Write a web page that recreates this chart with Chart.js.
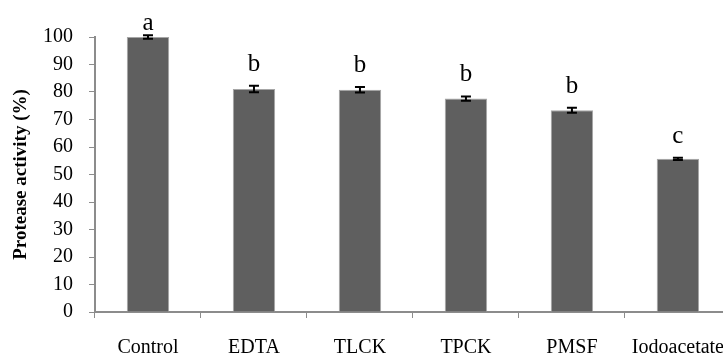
<!DOCTYPE html>
<html>
<head>
<meta charset="utf-8">
<script src="https://cdn.jsdelivr.net/npm/chart.js@4"></script>
<style>
    html, body { margin: 0; padding: 0; background: #fff; overflow: hidden; }
    #wrap { width: 742px; height: 356px; position: relative; }
</style>
</head>
<body>
<div id="wrap"><canvas id="myChart"></canvas></div>
<script>
// data
const categories = ['Control', 'EDTA', 'TLCK', 'TPCK', 'PMSF', 'Iodoacetate'];
const activity = [100, 81.1, 80.8, 77.6, 73.4, 55.7];
const errors = [0.6, 1.2, 1.0, 0.8, 0.9, 0.4];
const letters = ['a', 'b', 'b', 'b', 'b', 'c'];
const yTicks = [0, 10, 20, 30, 40, 50, 60, 70, 80, 90, 100];

const AXIS_COLOR = '#8c8c8c';
const FONT = "'Liberation Serif', 'Times New Roman', serif";

// draws the error bars and the letters over each bar
const errorBarPlugin = {
    id: 'errorBars',
    afterDatasetsDraw(chart) {
        const ctx = chart.ctx;
        const meta = chart.getDatasetMeta(0);
        const y = chart.scales.y;
        ctx.save();
        for (let i = 0; i < meta.data.length; i++) {
            const bar = meta.data[i];
            const top = y.getPixelForValue(activity[i] + errors[i]);
            const bottom = y.getPixelForValue(activity[i] - errors[i]);
            ctx.strokeStyle = '#000';
            ctx.lineWidth = 2;
            ctx.beginPath();
            ctx.moveTo(bar.x, top);
            ctx.lineTo(bar.x, bottom);
            ctx.moveTo(bar.x - 5, top);
            ctx.lineTo(bar.x + 5, top);
            ctx.moveTo(bar.x - 5, bottom);
            ctx.lineTo(bar.x + 5, bottom);
            ctx.stroke();

            // letter label
            ctx.fillStyle = '#000';
            ctx.font = '25px ' + FONT;
            ctx.textAlign = 'center';
            ctx.textBaseline = 'alphabetic';
            var base = Math.max(top - 15, 30);
            ctx.fillText(letters[i], bar.x, base);
        }
        ctx.restore();
    }
};

const config = {
    type: 'bar',
    data: {
        labels: categories,
        datasets: [{
            data: activity,
            backgroundColor: '#5f5f5f',
            borderColor: '#a6a6a6',
            borderWidth: 1,
            barPercentage: 0.8,
            categoryPercentage: 0.5
        }]
    },
    options: {
        responsive: true,
        maintainAspectRatio: false,
        animation: false,
        layout: {
            padding: { left: 0, right: 0, top: 37, bottom: 0 }
        },
        plugins: {
            legend: { display: false },
            tooltip: { enabled: false }
        },
        scales: {
            x: {
                grid: {
                    display: true,
                    drawOnChartArea: false,
                    drawTicks: true,
                    tickLength: 6,
                    tickColor: AXIS_COLOR,
                    offset: true
                },
                border: { color: AXIS_COLOR, width: 2 },
                ticks: {
                    color: '#000',
                    padding: 18,
                    maxRotation: 0,
                    autoSkip: false,
                    font: { family: FONT, size: 20 }
                },
                afterFit: function (scale) { scale.height = 44; }
            },
            y: {
                min: 0,
                max: 100,
                afterBuildTicks: function (scale) {
                    scale.ticks = yTicks.map(v => ({ value: v }));
                },
                grid: {
                    display: true,
                    drawOnChartArea: false,
                    drawTicks: true,
                    tickLength: 6,
                    tickColor: AXIS_COLOR
                },
                border: { color: AXIS_COLOR, width: 2 },
                ticks: {
                    color: '#000',
                    padding: 16,
                    font: { family: FONT, size: 20 }
                },
                title: {
                    display: true,
                    text: 'Protease activity (%)',
                    color: '#000',
                    padding: { top: 10, bottom: 0 },
                    font: { family: FONT, size: 19, weight: 'bold' }
                },
                afterFit: function (scale) { scale.width = 95; }
            }
        }
    },
    plugins: [errorBarPlugin]
};

new Chart(document.getElementById('myChart'), config);
</script>
</body>
</html>
